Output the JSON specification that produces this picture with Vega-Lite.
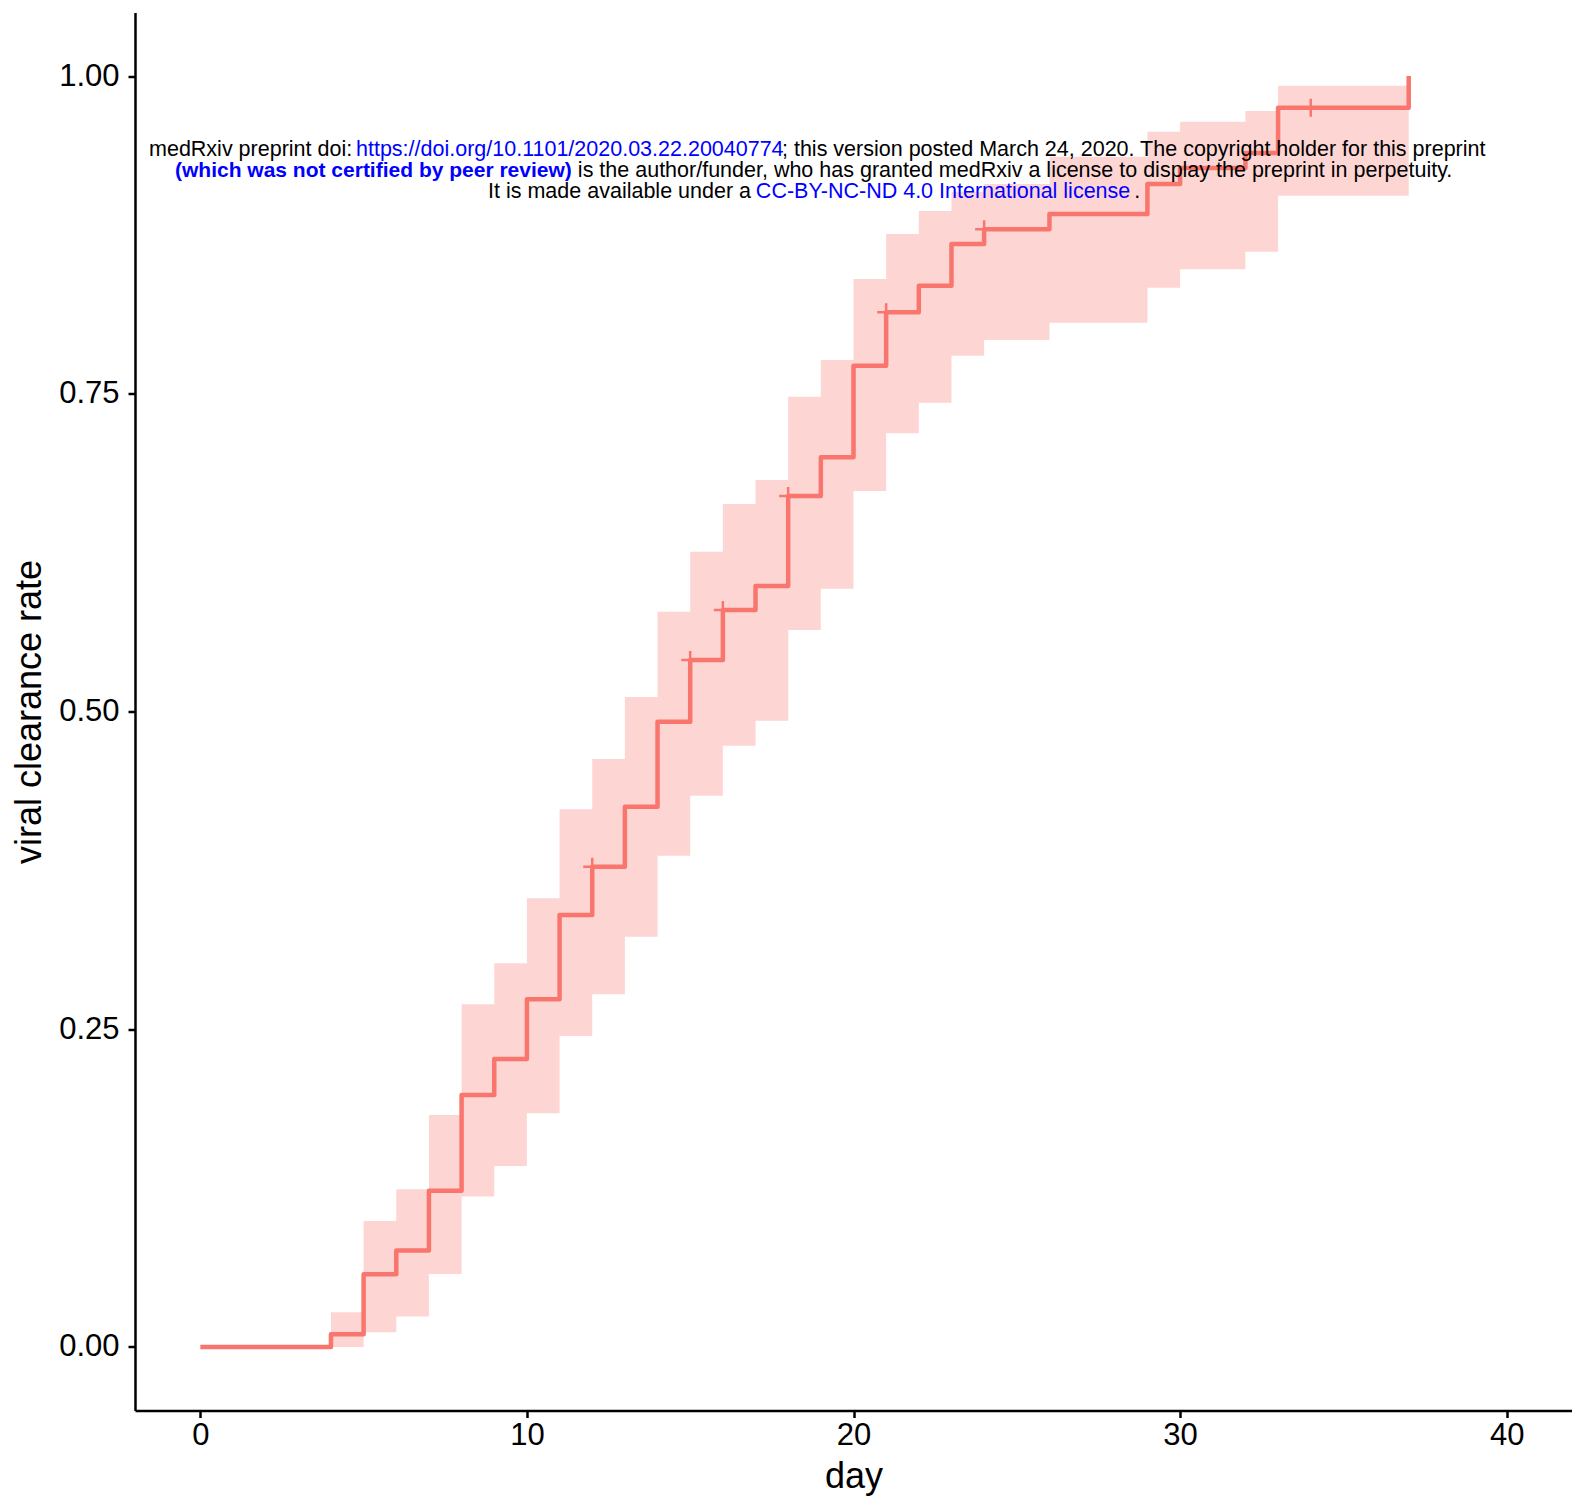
{
  "$schema": "https://vega.github.io/schema/vega-lite/v6.json",
  "width": 1437,
  "height": 1398,
  "autosize": {"type": "none"},
  "padding": {"left": 135, "top": 12.5, "right": 0, "bottom": 88.5},
  "background": "white",
  "config": {
    "view": {"stroke": null},
    "axis": {
      "grid": false,
      "domainColor": "#000000",
      "domainWidth": 2.5,
      "tickColor": "#000000",
      "tickWidth": 2.5,
      "tickSize": 7,
      "labelFont": "Liberation Sans",
      "labelFontSize": 31,
      "labelColor": "#000000",
      "titleFont": "Liberation Sans",
      "titleFontSize": 36,
      "titleFontWeight": "normal",
      "titleColor": "#000000"
    }
  },
  "datasets": {
    "km": [
      {"day": 0, "surv": 0, "lo": 0, "hi": 0},
      {"day": 4, "surv": 0.0100, "lo": 0, "hi": 0.0273},
      {"day": 5, "surv": 0.0572, "lo": 0.0116, "hi": 0.0991},
      {"day": 6, "surv": 0.0758, "lo": 0.0239, "hi": 0.124},
      {"day": 7, "surv": 0.123, "lo": 0.0574, "hi": 0.1825},
      {"day": 8, "surv": 0.1983, "lo": 0.1183, "hi": 0.2696},
      {"day": 9, "surv": 0.2266, "lo": 0.1424, "hi": 0.3019},
      {"day": 10, "surv": 0.2736, "lo": 0.1839, "hi": 0.353},
      {"day": 11, "surv": 0.3399, "lo": 0.2447, "hi": 0.423},
      {"day": 12, "surv": 0.3779, "lo": 0.2775, "hi": 0.4626},
      {"day": 13, "surv": 0.4251, "lo": 0.3228, "hi": 0.5114},
      {"day": 14, "surv": 0.492, "lo": 0.3865, "hi": 0.5785},
      {"day": 15, "surv": 0.5405, "lo": 0.4338, "hi": 0.6257},
      {"day": 16, "surv": 0.5799, "lo": 0.4731, "hi": 0.6633},
      {"day": 17, "surv": 0.5987, "lo": 0.4928, "hi": 0.6821},
      {"day": 18, "surv": 0.6695, "lo": 0.5641, "hi": 0.7477},
      {"day": 19, "surv": 0.700, "lo": 0.5966, "hi": 0.7766},
      {"day": 20, "surv": 0.7721, "lo": 0.6735, "hi": 0.8403},
      {"day": 21, "surv": 0.8141, "lo": 0.7189, "hi": 0.8757},
      {"day": 22, "surv": 0.835, "lo": 0.743, "hi": 0.8938},
      {"day": 23, "surv": 0.8678, "lo": 0.780, "hi": 0.909},
      {"day": 24, "surv": 0.8794, "lo": 0.7923, "hi": 0.915},
      {"day": 26, "surv": 0.8914, "lo": 0.8059, "hi": 0.9365},
      {"day": 29, "surv": 0.915, "lo": 0.8334, "hi": 0.9562},
      {"day": 30, "surv": 0.9276, "lo": 0.8479, "hi": 0.964},
      {"day": 32, "surv": 0.9394, "lo": 0.8618, "hi": 0.9725},
      {"day": 33, "surv": 0.975, "lo": 0.9058, "hi": 0.9924},
      {"day": 37, "surv": 1.0, "lo": 1.0, "hi": 1.0}
    ],
    "censor": [
      {"day": 12, "surv": 0.3779},
      {"day": 15, "surv": 0.5405},
      {"day": 16, "surv": 0.5799},
      {"day": 18, "surv": 0.6695},
      {"day": 21, "surv": 0.8141},
      {"day": 24, "surv": 0.8794},
      {"day": 34, "surv": 0.975}
    ],
    "note": [
      {"line": 1, "kind": "black", "bold": false, "day": -1.571, "rate": 0.9373, "txt": "medRxiv preprint doi: "},
      {"line": 1, "kind": "blue", "bold": false, "day": 4.767, "rate": 0.9373, "txt": "https://doi.org/10.1101/2020.03.22.20040774"},
      {"line": 1, "kind": "black", "bold": false, "day": 17.81, "rate": 0.9373, "txt": "; this version posted March 24, 2020. The copyright holder for this preprint"},
      {"line": 2, "kind": "blue", "bold": true, "day": -0.775, "rate": 0.9209, "txt": "(which was not certified by peer review)"},
      {"line": 2, "kind": "black", "bold": false, "day": 11.56, "rate": 0.9209, "txt": " is the author/funder, who has granted medRxiv a license to display the preprint in perpetuity."},
      {"line": 3, "kind": "black", "bold": false, "day": 8.81, "rate": 0.9044, "txt": "It is made available under a "},
      {"line": 3, "kind": "blue", "bold": false, "day": 17.01, "rate": 0.9044, "txt": "CC-BY-NC-ND 4.0 International license"},
      {"line": 3, "kind": "black", "bold": false, "day": 28.6, "rate": 0.9044, "txt": " ."}
    ]
  },
  "layer": [
    {
      "data": {"name": "km"},
      "mark": {"type": "area", "interpolate": "step-after", "color": "#F8766D", "opacity": 0.3},
      "encoding": {
        "x": {"field": "day", "type": "quantitative", "scale": {"domain": [-2, 42], "nice": false, "zero": false},
              "axis": {"values": [0, 10, 20, 30, 40], "title": "day", "labelPadding": 3, "titlePadding": 9}},
        "y": {"field": "lo", "type": "quantitative", "scale": {"domain": [-0.05, 1.05], "nice": false, "zero": false},
              "axis": {"values": [0, 0.25, 0.5, 0.75, 1], "format": ".2f", "title": "viral clearance rate", "labelPadding": 9, "titlePadding": 10}},
        "y2": {"field": "hi"}
      }
    },
    {
      "data": {"name": "km"},
      "mark": {"type": "line", "interpolate": "step-after", "color": "#F8766D", "strokeWidth": 4.5, "strokeJoin": "round", "strokeCap": "butt"},
      "encoding": {
        "x": {"field": "day", "type": "quantitative"},
        "y": {"field": "surv", "type": "quantitative"}
      }
    },
    {
      "data": {"name": "censor"},
      "mark": {"type": "point", "shape": "M-1,0L1,0M0,-1L0,1", "filled": false, "size": 324, "stroke": "#F8766D", "strokeWidth": 2.5, "opacity": 1},
      "encoding": {
        "x": {"field": "day", "type": "quantitative"},
        "y": {"field": "surv", "type": "quantitative"}
      }
    },
    {
      "data": {"name": "note"},
      "transform": [{"filter": "!datum.bold"}],
      "mark": {"type": "text", "align": "left", "baseline": "alphabetic", "font": "Liberation Sans", "fontSize": 21.5},
      "encoding": {
        "x": {"field": "day", "type": "quantitative"},
        "y": {"field": "rate", "type": "quantitative"},
        "text": {"field": "txt"},
        "color": {"field": "kind", "type": "nominal", "scale": {"domain": ["black", "blue"], "range": ["#000000", "#0000FF"]}, "legend": null}
      }
    },
    {
      "data": {"name": "note"},
      "transform": [{"filter": "datum.bold"}],
      "mark": {"type": "text", "align": "left", "baseline": "alphabetic", "font": "Liberation Sans", "fontSize": 21, "fontWeight": "bold"},
      "encoding": {
        "x": {"field": "day", "type": "quantitative"},
        "y": {"field": "rate", "type": "quantitative"},
        "text": {"field": "txt"},
        "color": {"field": "kind", "type": "nominal", "scale": {"domain": ["black", "blue"], "range": ["#000000", "#0000FF"]}, "legend": null}
      }
    }
  ]
}
